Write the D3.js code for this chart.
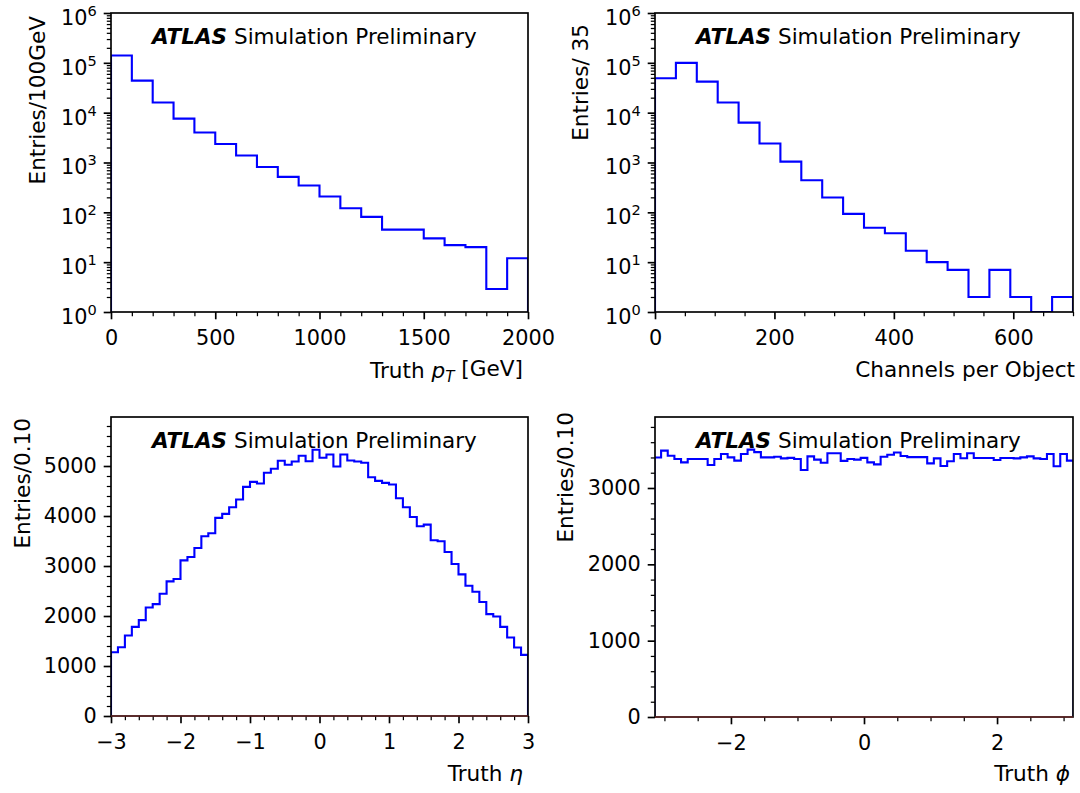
<!DOCTYPE html>
<html>
<head>
<meta charset="utf-8">
<script src="https://cdn.jsdelivr.net/npm/d3@7"></script>
<style>
  body { margin: 0; background: #fff; }
  svg { display: block; font-family: "DejaVu Sans", sans-serif; }
</style>
</head>
<body>
<div id="chart"></div>
<script>
// bin contents
const ptCounts = [140000, 44000, 16000, 7600, 4000, 2350, 1380, 810, 515, 345,
                  208, 121, 81, 45, 45, 30, 22, 20, 2.9, 12];
const channelCounts = [49000, 100000, 42000, 16000, 6300, 2400, 1040, 440, 198, 93,
                       49, 38, 17, 10, 7, 2, 7, 2, 0, 2];
const etaCounts = [1276, 1376, 1610, 1783, 1917, 2171, 2238, 2445, 2692, 2739,
                   3113, 3180, 3360, 3594, 3654, 3962, 4042, 4175, 4329, 4583,
                   4683, 4649, 4864, 4944, 5104, 5024, 5090, 5204, 5096, 5324,
                   5164, 5230, 4990, 5230, 5110, 5090, 5064, 4776, 4703, 4663,
                   4629, 4355, 4175, 3981, 3794, 3828, 3514, 3494, 3280, 3040,
                   2832, 2605, 2485, 2279, 2038, 1990, 1783, 1569, 1369, 1222];
const phiCounts = [3400, 3489, 3423, 3380, 3336, 3380, 3380, 3380, 3301, 3380,
                   3445, 3401, 3358, 3445, 3502, 3470, 3401, 3401, 3410, 3388,
                   3395, 3380, 3235, 3414, 3371, 3330, 3456, 3456, 3355, 3380,
                   3371, 3395, 3335, 3310, 3410, 3436, 3465, 3420, 3405, 3405,
                   3405, 3322, 3388, 3288, 3350, 3445, 3390, 3455, 3393, 3393,
                   3393, 3367, 3393, 3393, 3388, 3401, 3414, 3388, 3380, 3445,
                   3284, 3445, 3358];

// tick labels
const ptTicks = [0, 500, 1000, 1500, 2000];
const channelTicks = [0, 200, 400, 600];
const etaTicks = [-3, -2, -1, 0, 1, 2, 3];
const phiTicks = [-2, 0, 2];
const logTicks = [1, 10, 100, 1000, 10000, 100000, 1000000];
const etaYTicks = [0, 1000, 2000, 3000, 4000, 5000];
const phiYTicks = [0, 1000, 2000, 3000];

const W = 1080, H = 793;
const fontSize = 20.8;
const labelSize = 21.6;
const majorLen = 7.3, minorLen = 4.2;

const panels = [
    { counts: ptCounts, start: 0, binWidth: 100, xDomain: [0, 2000], xTicks: ptTicks, xMinorStep: 100,
      log: true, yDomain: [1, 1e6], yTicks: logTicks,
      box: { x: 111, y: 13, w: 417, h: 299 },
      yLabel: "Entries/100GeV", yLabelX: 44.5, yLabelY: 16,
      xLabel: [{ t: "Truth " }, { t: "p", it: true }, { t: "T", it: true, sub: true }, { t: " [GeV]" }],
      xLabelX: 523, xLabelY: 378 },
    { counts: channelCounts, start: 0, binWidth: 35, xDomain: [0, 700], xTicks: channelTicks, xMinorStep: 50,
      log: true, yDomain: [1, 1e6], yTicks: logTicks,
      box: { x: 655, y: 13, w: 418, h: 299 },
      yLabel: "Entries/ 35", yLabelX: 587.5, yLabelY: 24,
      xLabel: [{ t: "Channels per Object" }], xLabelX: 1075, xLabelY: 377 },
    { counts: etaCounts, start: -3, binWidth: 0.1, xDomain: [-3, 3], xTicks: etaTicks, xMinorStep: 0.2,
      log: false, yDomain: [0, 5980], yTicks: etaYTicks, yMinorStep: 200,
      box: { x: 111, y: 417, w: 417, h: 299 },
      yLabel: "Entries/0.10", yLabelX: 29.5, yLabelY: 418,
      xLabel: [{ t: "Truth " }, { t: "η", it: true }], xLabelX: 523, xLabelY: 781 },
    { counts: phiCounts, start: -3.15, binWidth: 0.1, xDomain: [-Math.PI, Math.PI], xTicks: phiTicks, xMinorStep: 0.5,
      log: false, yDomain: [0, 3930], yTicks: phiYTicks, yMinorStep: 200,
      box: { x: 655, y: 417, w: 418, h: 300 },
      yLabel: "Entries/0.10", yLabelX: 572.5, yLabelY: 412,
      xLabel: [{ t: "Truth " }, { t: "ϕ", it: true }], xLabelX: 1070, xLabelY: 781 }
];

const svg = d3.select("#chart")
    .append("svg")
    .attr("width", W)
    .attr("height", H)
    .attr("viewBox", `0 0 ${W} ${H}`);

svg.append("rect").attr("width", W).attr("height", H).attr("fill", "#fff");

function minorValues(domain, step, skip) {
    const out = [];
    const lo = Math.ceil(domain[0] / step - 1e-9), hi = Math.floor(domain[1] / step + 1e-9);
    for (let k = lo; k <= hi; k++) {
        const v = +(k * step).toFixed(6);
        if (!skip.some(s => Math.abs(s - v) < 1e-9)) out.push(v);
    }
    return out;
}

function styleAxis(sel, minor) {
    sel.select(".domain").remove();
    sel.selectAll(".tick line")
        .attr("stroke", "#000")
        .attr("stroke-width", minor ? 1.25 : 1.67);
    sel.selectAll(".tick text")
        .attr("fill", "#000")
        .style("font-family", "DejaVu Sans")
        .style("font-size", fontSize + "px");
}

panels.forEach((p, idx) => {
    const b = p.box;
    const g = svg.append("g").attr("transform", `translate(${b.x},${b.y})`);

    const x = d3.scaleLinear().domain(p.xDomain).range([0, b.w]);
    const y = (p.log ? d3.scaleLog() : d3.scaleLinear())
        .domain(p.yDomain).range([b.h, 0]).clamp(true);

    // clip for the histogram outline
    const clipId = "clip" + idx;
    svg.append("defs").append("clipPath").attr("id", clipId)
        .append("rect").attr("x", 0).attr("y", -2).attr("width", b.w).attr("height", b.h + 2);

    // step outline, closed down to the baseline at both ends
    const base = y(p.log ? p.yDomain[0] : 0);
    const pts = [[x(p.start), base]];
    p.counts.forEach((c, i) => {
        pts.push([x(p.start + i * p.binWidth), y(c)]);
        pts.push([x(p.start + (i + 1) * p.binWidth), y(c)]);
    });
    pts.push([x(p.start + p.counts.length * p.binWidth), base]);

    g.append("path")
        .attr("clip-path", `url(#${clipId})`)
        .attr("d", d3.line()(pts))
        .attr("fill", "none")
        .attr("stroke", "#0000ff")
        .attr("stroke-width", 2.1)
        .attr("stroke-linejoin", "miter");

    // x axis
    const xMinor = minorValues(p.xDomain, p.xMinorStep, p.xTicks);
    g.append("g").attr("transform", `translate(0,${b.h})`)
        .call(d3.axisBottom(x).tickValues(xMinor).tickSize(minorLen).tickFormat(""))
        .call(s => styleAxis(s, true));
    g.append("g").attr("transform", `translate(0,${b.h})`)
        .call(d3.axisBottom(x).tickValues(p.xTicks).tickSize(majorLen).tickPadding(11)
            .tickFormat(d3.format("")))
        .call(s => styleAxis(s, false));

    // y axis
    let yMinor;
    if (p.log) {
        yMinor = [];
        for (let e = 0; e < 6; e++) for (let m = 2; m <= 9; m++) yMinor.push(m * Math.pow(10, e));
    } else {
        yMinor = minorValues(p.yDomain, p.yMinorStep, p.yTicks);
    }
    g.append("g")
        .call(d3.axisLeft(y).tickValues(yMinor).tickSize(minorLen).tickFormat(""))
        .call(s => styleAxis(s, true));
    const yAxisG = g.append("g")
        .call(d3.axisLeft(y).tickValues(p.yTicks).tickSize(majorLen).tickPadding(7)
            .tickFormat(p.log ? () => "" : d3.format("")))
        .call(s => styleAxis(s, false));

    if (p.log) {
        yAxisG.selectAll(".tick text")
            .attr("dy", "0.55em")
            .each(function (d) {
                const t = d3.select(this);
                t.append("tspan").text("10");
                t.append("tspan")
                    .attr("dy", "-0.62em")
                    .style("font-size", (fontSize * 0.7) + "px")
                    .text(Math.round(Math.log10(d)));
            });
    }

    // frame
    g.append("rect")
        .attr("width", b.w).attr("height", b.h)
        .attr("fill", "none")
        .attr("stroke", "#000")
        .attr("stroke-width", 1.67);

    if (!p.log) {
        g.append("line")
            .attr("x1", 0).attr("x2", b.w)
            .attr("y1", y(0)).attr("y2", y(0))
            .attr("stroke", "#8b2e2e")
            .attr("stroke-width", 1.2);
    }

    // ATLAS label
    g.append("text")
        .attr("x", 41).attr("y", 30.5)
        .style("font-family", "DejaVu Sans")
        .style("font-size", "21.5px")
        .style("font-weight", "bold")
        .style("font-style", "italic")
        .attr("fill", "#000")
        .text("ATLAS");
    g.append("text")
        .attr("x", 123).attr("y", 30.5)
        .style("font-family", "DejaVu Sans")
        .style("font-size", "21.5px")
        .attr("fill", "#000")
        .text("Simulation Preliminary");

    // axis titles
    svg.append("text")
        .attr("transform", `translate(${p.yLabelX},${p.yLabelY}) rotate(-90)`)
        .attr("text-anchor", "end")
        .style("font-family", "DejaVu Sans")
        .style("font-size", labelSize + "px")
        .attr("fill", "#000")
        .text(p.yLabel);

    const xl = svg.append("text")
        .attr("x", p.xLabelX).attr("y", p.xLabelY)
        .attr("text-anchor", "end")
        .style("font-family", "DejaVu Sans")
        .style("font-size", labelSize + "px")
        .attr("fill", "#000");
    let shifted = false;
    p.xLabel.forEach(seg => {
        const ts = xl.append("tspan").text(seg.t);
        if (seg.it) ts.style("font-style", "italic");
        if (seg.sub) {
            ts.attr("dy", "0.25em").style("font-size", (labelSize * 0.7) + "px");
            shifted = true;
        } else if (shifted) {
            ts.attr("dy", "-0.25em");
            shifted = false;
        }
    });
});
</script>
</body>
</html>
